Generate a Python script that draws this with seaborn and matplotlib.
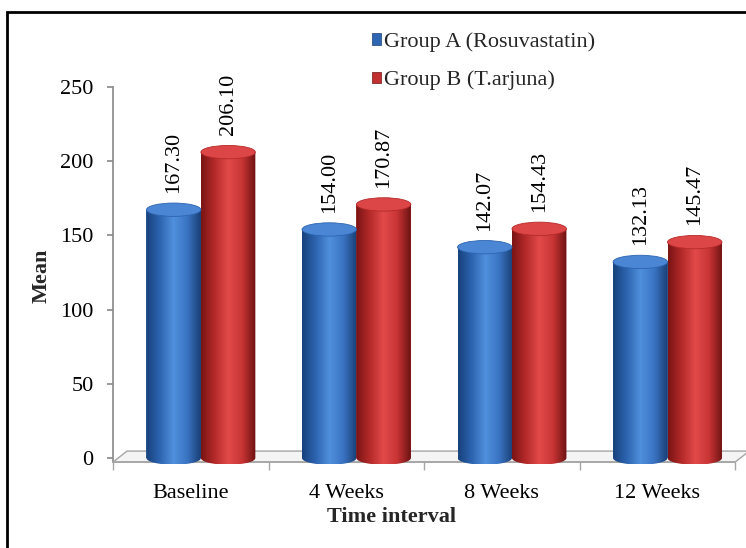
import numpy as np
import pandas as pd
import seaborn as sns
import matplotlib.pyplot as plt
from matplotlib.patches import Rectangle, Ellipse, Polygon, Patch
from matplotlib.colors import LinearSegmentedColormap

# data
intervals = ["Baseline", "4 Weeks", "8 Weeks", "12 Weeks"]
groups = ["Group A (Rosuvastatin)", "Group B (T.arjuna)"]
group_a = [167.30, 154.00, 142.07, 132.13]
group_b = [206.10, 170.87, 154.43, 145.47]

df = pd.DataFrame({
    "interval": intervals * 2,
    "group": [groups[0]] * 4 + [groups[1]] * 4,
    "mean": group_a + group_b,
})

sns.set_theme(style="white")
plt.rcParams["font.family"] = ["Liberation Serif", "DejaVu Serif"]
fs = 16

fig = plt.figure(figsize=(7.46, 5.48), dpi=100)
ax = fig.add_axes([0.1515, 0.1533, 0.834, 0.688])

palette = {groups[0]: "#2f66b3", groups[1]: "#c03030"}
sns.barplot(data=df, x="interval", y="mean", hue="group", palette=palette,
            width=0.7, legend=False, ax=ax, zorder=3)

# cylinder look
shades = {
    0: (["#17427c", "#2d64b0", "#5090dc", "#3a74c4", "#1a3f74"], "#4a86d4"),
    1: (["#7a1414", "#b52a2a", "#e24a4a", "#c83434", "#6e1212"], "#dc4646"),
}
dx = 0.065       # depth shift of the bars
cap_h = 9.0      # cap height in data units
for gi, cont in enumerate(ax.containers):
    cmap = LinearSegmentedColormap.from_list("cyl", shades[gi][0])
    for bar in cont:
        bar.set_x(bar.get_x() + dx)
        x0, w, h = bar.get_x(), bar.get_width(), bar.get_height()
        bar.set_edgecolor("none")
        # body outline: rectangle + rounded bottom
        t = np.linspace(0, np.pi, 40)
        bottom = np.column_stack([x0 + w / 2 + w / 2 * np.cos(t), -cap_h / 2 * np.sin(t)])
        pts = np.vstack([[[x0, h]], [[x0 + w, h]], bottom, [[x0, 0]]])
        body = Polygon(pts, closed=True, facecolor="none", edgecolor="none",
                       transform=ax.transData)
        ax.add_patch(body)
        grad = np.linspace(0, 1, 200).reshape(1, -1)
        img = ax.imshow(grad, cmap=cmap, aspect="auto", origin="lower",
                        extent=[x0, x0 + w, -cap_h, h], zorder=4)
        img.set_clip_path(body)
        cap = Ellipse((x0 + w / 2, h), w, cap_h, facecolor=shades[gi][1],
                      edgecolor=shades[gi][0][1], lw=0.6, zorder=5)
        ax.add_patch(cap)
    ax.bar_label(cont, labels=[f"{v:.2f}" for v in cont.datavalues],
                 rotation=90, padding=12, fontsize=fs, color="black")

n = len(intervals)
# floor of the 3D chart
floor = Polygon([[-0.5, -2.7], [n - 0.5, -2.7], [n - 0.5 + 0.09, 4.7], [-0.5 + 0.09, 4.7]],
                closed=True, facecolor="#f4f4f4", edgecolor="#a6a6a6", lw=1.0,
                zorder=1, clip_on=False)
ax.add_patch(floor)

ax.set_xlim(-0.5, n - 0.5)
ax.set_ylim(-4, 250)
ax.set_yticks([0, 50, 100, 150, 200, 250])
ax.set_xticks(range(n))
ax.set_xticklabels(intervals)
ax.set_xticks(np.arange(-0.5, n, 1.0), minor=True)

for s in ["top", "right"]:
    ax.spines[s].set_visible(False)
ax.spines["left"].set_color("#8c8c8c")
ax.spines["left"].set_bounds(-2.7, 250)
ax.spines["bottom"].set_color("#a6a6a6")
ax.spines["bottom"].set_position(("data", -2.7))

ax.tick_params(axis="y", which="major", left=True, length=4, color="#8c8c8c",
               labelsize=fs, pad=10, labelcolor="black")
ax.tick_params(axis="x", which="major", bottom=False, labelsize=fs, pad=10,
               labelcolor="black")
ax.tick_params(axis="x", which="minor", bottom=True, length=6, color="#a6a6a6")

ax.set_xlabel("Time interval", fontsize=fs, fontweight="bold")
ax.xaxis.set_label_coords(0.447, -0.114)
ax.set_ylabel("Mean", fontsize=fs, fontweight="bold", labelpad=6)
ax.grid(False)

handles = [Patch(facecolor=palette[g], edgecolor="#1a3f74" if i == 0 else "#6e1212", lw=0.5)
           for i, g in enumerate(groups)]
fig.legend(handles, groups, loc="upper left", bbox_to_anchor=(372 / 746, 1 - 32 / 548),
           frameon=False, fontsize=fs, handlelength=0.42, handleheight=0.42,
           handletextpad=0.12, labelspacing=0.85, borderaxespad=0, borderpad=0)

# outer black frame
fig.patches.append(Rectangle((7 / 746, -0.1), 1.2, 1.1 - 12 / 548, fill=False,
                             edgecolor="black", lw=2, transform=fig.transFigure))

fig.savefig("out.png", dpi=100)
